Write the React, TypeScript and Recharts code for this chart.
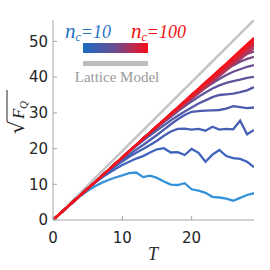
import { LineChart, Line, XAxis, YAxis } from "recharts";

// time axis (T) and sqrt(F_Q) curves, lowest n_c first
const tValues = [0, 1, 2, 3, 4, 5, 6, 7, 8, 9, 10, 11, 12, 13, 14, 15, 16, 17, 18, 19, 20, 21, 22, 23, 24, 25, 26, 27, 28, 29];

const line01 = [0, 1.7, 3.5, 5.2, 6.8, 8.2, 9.4, 10.4, 11.2, 11.9, 12.5, 13.1, 13.3, 12.0, 12.4, 11.8, 10.8, 9.9, 9.8, 10.3, 8.6, 8.2, 7.6, 6.5, 6.3, 6.0, 5.4, 6.2, 7.0, 7.5];
const line02 = [0, 1.7, 3.5, 5.2, 7.0, 8.7, 10.3, 11.8, 13.1, 14.3, 15.4, 16.3, 17.2, 17.9, 18.9, 19.8, 20.1, 18.9, 19.0, 18.2, 19.9, 18.8, 16.3, 18.3, 19.6, 17.9, 17.3, 17.1, 16.3, 14.8];
const line03 = [0, 1.8, 3.5, 5.3, 7.0, 8.7, 10.4, 12.0, 13.6, 15.0, 16.4, 17.7, 18.8, 19.9, 21.0, 22.2, 23.6, 24.8, 25.5, 25.6, 25.3, 25.5, 25.0, 26.1, 25.3, 25.5, 25.4, 27.8, 24.0, 25.2];
const line04 = [0, 1.8, 3.5, 5.3, 7.0, 8.8, 10.5, 12.2, 13.8, 15.3, 16.9, 18.3, 19.7, 21.0, 22.4, 23.8, 25.3, 26.8, 28.2, 29.4, 30.3, 30.5, 30.6, 30.7, 30.8, 31.2, 31.9, 31.6, 31.3, 31.5];
const line05 = [0, 1.8, 3.5, 5.3, 7.0, 8.8, 10.5, 12.3, 14.0, 15.8, 17.5, 19.1, 20.7, 22.2, 23.7, 25.1, 26.5, 27.9, 29.2, 30.4, 31.5, 32.6, 33.5, 34.4, 35.0, 35.2, 35.4, 35.8, 36.3, 37.2];
const line06 = [0, 1.8, 3.5, 5.3, 7.0, 8.8, 10.5, 12.3, 14.0, 15.8, 17.5, 19.3, 20.9, 22.6, 24.2, 25.8, 27.4, 28.9, 30.4, 31.8, 33.2, 34.5, 35.7, 36.8, 37.7, 38.4, 38.9, 39.3, 39.8, 40.1];
const line07 = [0, 1.8, 3.5, 5.3, 7.0, 8.8, 10.5, 12.3, 14.0, 15.8, 17.5, 19.3, 21.0, 22.8, 24.4, 26.1, 27.8, 29.4, 31.0, 32.6, 34.1, 35.6, 37.0, 38.3, 39.5, 40.6, 41.5, 42.2, 42.9, 43.4];
const line08 = [0, 1.8, 3.5, 5.3, 7.0, 8.8, 10.5, 12.3, 14.0, 15.8, 17.5, 19.3, 21.0, 22.8, 24.5, 26.3, 28.0, 29.7, 31.4, 33.1, 34.8, 36.4, 38.0, 39.5, 40.9, 42.2, 43.3, 44.3, 45.1, 45.7];
const line09 = [0, 1.8, 3.5, 5.3, 7.0, 8.8, 10.5, 12.3, 14.0, 15.8, 17.5, 19.3, 21.0, 22.8, 24.5, 26.3, 28.0, 29.8, 31.5, 33.2, 34.9, 36.6, 38.3, 39.9, 41.5, 43.0, 44.3, 45.5, 46.5, 47.2];
const line10 = [0, 1.8, 3.5, 5.3, 7.0, 8.8, 10.5, 12.3, 14.0, 15.8, 17.5, 19.3, 21.0, 22.8, 24.4, 26.0, 27.6, 29.2, 30.7, 32.3, 33.9, 35.5, 37.1, 38.7, 40.3, 41.9, 43.5, 45.0, 46.6, 48.2];
const line11 = [0, 1.8, 3.5, 5.3, 7.0, 8.8, 10.5, 12.3, 14.0, 15.8, 17.5, 19.3, 21.0, 22.8, 24.5, 26.1, 27.8, 29.4, 31.0, 32.6, 34.3, 35.9, 37.5, 39.1, 40.8, 42.4, 44.0, 45.6, 47.3, 48.9];
const line12 = [0, 1.8, 3.5, 5.3, 7.0, 8.8, 10.5, 12.3, 14.0, 15.8, 17.5, 19.3, 21.0, 22.8, 24.5, 26.3, 27.9, 29.6, 31.3, 32.9, 34.6, 36.2, 37.9, 39.5, 41.2, 42.9, 44.5, 46.2, 47.8, 49.5];
const line13 = [0, 1.8, 3.5, 5.3, 7.0, 8.8, 10.5, 12.3, 14.0, 15.8, 17.5, 19.3, 21.0, 22.8, 24.5, 26.3, 28.0, 29.7, 31.4, 33.1, 34.8, 36.5, 38.2, 39.8, 41.5, 43.2, 44.9, 46.6, 48.3, 50.0];
const line14 = [0, 1.8, 3.5, 5.3, 7.0, 8.8, 10.5, 12.3, 14.0, 15.8, 17.5, 19.3, 21.0, 22.8, 24.5, 26.3, 28.0, 29.8, 31.5, 33.2, 34.9, 36.7, 38.4, 40.1, 41.8, 43.6, 45.3, 47.0, 48.8, 50.5];
const line15 = [0, 1.8, 3.5, 5.3, 7.0, 8.8, 10.5, 12.3, 14.0, 15.8, 17.5, 19.3, 21.0, 22.8, 24.5, 26.3, 28.0, 29.8, 31.5, 33.3, 35.1, 36.8, 38.6, 40.3, 42.1, 43.8, 45.6, 47.4, 49.2, 51.0];

// lattice model: straight line, only end points given
const latticeModel = [0, null, null, null, null, null, null, null, null, null, null, null, null, null, null, null, null, null, null, null, null, null, null, null, null, null, null, null, null, 56];

const xTicks = [0, 10, 20];
const yTicks = [0, 10, 20, 30, 40, 50];

const curves = [line01, line02, line03, line04, line05, line06, line07, line08, line09, line10, line11, line12, line13, line14, line15];
const curveColors = [
  "#3592d8", "#3f63bd", "#4560b5", "#4c5cae", "#5559a5",
  "#60559b", "#6c5090", "#7a4a84", "#8a4376", "#a53a64",
  "#bd3050", "#d0283f", "#e01f30", "#ec1824", "#f5121a",
];

const rows = tValues.map((t, i) => {
  const row: Record<string, number | null> = { T: t, lattice: latticeModel[i] };
  curves.forEach((c, k) => {
    row["c" + k] = c[i];
  });
  return row;
});

const tickStyle = { fontFamily: "DejaVu Sans", fontSize: 15, fill: "#262626" };
const boxColor = "#a6a6a6";

export default function App() {
  return (
    <div style={{ position: "absolute", left: 0, top: 0, width: 270, height: 270, background: "#fff" }}>
      <LineChart
        width={270}
        height={270}
        data={rows}
        margin={{ top: 20, right: 16, bottom: 0, left: 0 }}
      >
        <XAxis
          dataKey="T"
          type="number"
          domain={[0, 29]}
          ticks={xTicks}
          height={50}
          tickSize={-4}
          tickMargin={16}
          stroke={boxColor}
          tick={tickStyle}
          allowDataOverflow
        />
        <XAxis
          xAxisId="top"
          orientation="top"
          type="number"
          domain={[0, 29]}
          ticks={xTicks}
          height={0}
          tickSize={-4}
          tick={false}
          stroke={boxColor}
        />
        <YAxis
          type="number"
          domain={[0, 56]}
          ticks={yTicks}
          width={53}
          tickSize={-4}
          tickMargin={9}
          stroke={boxColor}
          tick={tickStyle}
          allowDataOverflow
        />
        <YAxis
          yAxisId="right"
          orientation="right"
          type="number"
          domain={[0, 56]}
          ticks={yTicks}
          width={0}
          tickSize={-4}
          tick={false}
          stroke={boxColor}
        />
        <Line
          dataKey="lattice"
          stroke="#c4c4c4"
          strokeWidth={2.5}
          dot={false}
          connectNulls
          isAnimationActive={false}
        />
        {curves.map((_, k) => (
          <Line
            key={k}
            dataKey={"c" + k}
            stroke={curveColors[k]}
            strokeWidth={2.3}
            dot={false}
            isAnimationActive={false}
          />
        ))}
      </LineChart>
      <svg
        width={270}
        height={270}
        style={{ position: "absolute", left: 0, top: 0, pointerEvents: "none" }}
      >
        <defs>
          <linearGradient id="ncGrad" x1="0" x2="1" y1="0" y2="0">
            <stop offset="0%" stopColor="#1a6cc4" />
            <stop offset="50%" stopColor="#6b4d90" />
            <stop offset="100%" stopColor="#fa0d1a" />
          </linearGradient>
        </defs>
        <text x={65} y={38} fill="#1f74c8" fontFamily="Liberation Serif" fontStyle="italic">
          <tspan fontSize={21}>n</tspan>
          <tspan fontSize={12} dy={3}>c</tspan>
          <tspan fontSize={18} dy={-3}>=10</tspan>
        </text>
        <text x={131} y={38} fill="#f01010" fontFamily="Liberation Serif" fontStyle="italic">
          <tspan fontSize={21}>n</tspan>
          <tspan fontSize={12} dy={3}>c</tspan>
          <tspan fontSize={18} dy={-3}>=100</tspan>
        </text>
        <rect x={83} y={43} width={65} height={10} fill="url(#ncGrad)" />
        <rect x={83} y={61} width={65} height={5} fill="#bdbdbd" />
        <text x={117} y={82} textAnchor="middle" fill="#9a9a9a" fontFamily="Liberation Serif" fontSize={15}>
          Lattice Model
        </text>
        <text x={153} y={260} textAnchor="middle" fill="#262626" fontFamily="Liberation Serif" fontStyle="italic" fontSize={18}>
          T
        </text>
        <g transform="translate(24,111) rotate(-90)">
          <text x={-23} y={0} fill="#262626" fontFamily="DejaVu Serif" fontSize={21}>√</text>
          <line x1={-10} x2={21} y1={-17} y2={-17} stroke="#262626" strokeWidth={1} />
          <text x={-8} y={0} fill="#262626" fontFamily="Liberation Serif" fontStyle="italic" fontSize={17}>F</text>
          <text x={2} y={3} fill="#262626" fontFamily="Liberation Serif" fontStyle="italic" fontSize={11}>Q</text>
        </g>
      </svg>
    </div>
  );
}
